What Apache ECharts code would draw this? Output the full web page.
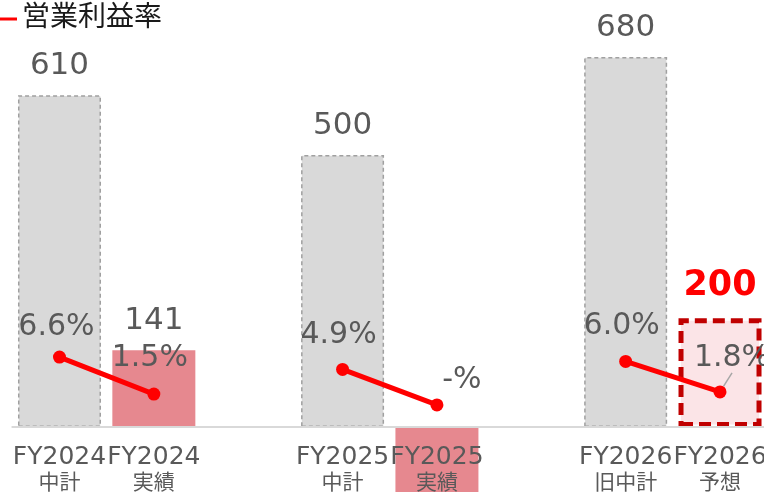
<!DOCTYPE html>
<html>
<head>
<meta charset="utf-8">
<script src="https://cdn.jsdelivr.net/npm/echarts@6/dist/echarts.min.js"></script>
<style>html,body{margin:0;padding:0;background:#fff;}#c{width:764px;height:492px;}</style>
</head>
<body>
<div id="c"></div>
<script>
// ---- data ----
const categories = ['FY2024\n中計', 'FY2024\n実績', '', 'FY2025\n中計', 'FY2025\n実績', '', 'FY2026\n旧中計', 'FY2026\n予想'];
const profitValues = [610, 141, null, 500, -130, null, 680, 200];
const marginValues = [6.6, 1.5, null, 4.9, 0, null, 6.0, 1.8];
const marginLabels = ['6.6%', '1.5%', '', '4.9%', '-%', '', '6.0%', '1.8%'];
const seriesName = '営業利益率';

const FONT = "'DejaVu Sans','Noto Sans CJK JP',sans-serif";
const TXT = '#595959';

const planStyle = { color: '#d9d9d9', borderColor: '#a0a0a0', borderWidth: 1.5, borderType: [4, 3] };
const actualStyle = { color: '#e6888f' };
const forecastStyle = { color: '#fbe4e7', borderColor: '#c00000', borderWidth: 5, borderType: [12, 6] };
const barStyles = [planStyle, actualStyle, null, planStyle, actualStyle, null, planStyle, forecastStyle];

const barData = profitValues.map((v, i) => {
  if (v === null) return null;
  const d = { value: v, itemStyle: barStyles[i] };
  if (v < 0) d.label = { show: false };
  if (i === 7) d.label = { color: '#ff0000', fontWeight: 'bold', fontSize: 35, distance: 15 };
  return d;
});

const labelOffsets = [[-3, -30], [-4, -36], null, [-4, -34], [25, -25], null, [-4, -35], [12, -34]];
const lineData = marginValues.map((v, i) => {
  if (v === null) return null;
  const d = { value: v, label: { offset: labelOffsets[i] } };
  if (i === 7) d.labelLine = { show: true, lineStyle: { color: '#a6a6a6', width: 1.5 } };
  return d;
});

const chart = echarts.init(document.getElementById('c'), null, { renderer: 'canvas' });
chart.setOption({
  animation: false,
  textStyle: { fontFamily: FONT },
  legend: {
    left: -13, top: 0,
    itemWidth: 25, itemHeight: 3, itemGap: 10,
    data: [{ name: seriesName, icon: 'rect' }],
    textStyle: { fontSize: 28, color: '#1a1a1a', fontFamily: FONT, padding: [0, 0, 0, 0] }
  },
  grid: { left: 12.3, width: 754.9, top: -8.2, height: 435.2, containLabel: false, outerBoundsMode: 'none' },
  xAxis: {
    type: 'category',
    data: categories,
    z: 5,
    axisLine: { onZero: true, onZeroAxisIndex: 0, lineStyle: { color: '#d9d9d9', width: 2 } },
    axisTick: { show: false },
    axisLabel: {
      interval: 0, color: TXT, margin: 16, fontFamily: FONT, hideOverlap: false,
      formatter: v => {
        if (!v) return '';
        const parts = v.split('\n');
        return '{a|' + parts[0] + '}\n{b|' + parts[1] + '}';
      },
      rich: {
        a: { fontSize: 25, lineHeight: 28, color: TXT, fontFamily: FONT },
        b: { fontSize: 21, lineHeight: 26, color: TXT, fontFamily: FONT }
      }
    }
  },
  yAxis: [
    { type: 'value', min: 0, max: 800, show: false, splitLine: { show: false } },
    { type: 'value', min: -3.04, max: 56.99, show: false, splitLine: { show: false } }
  ],
  series: [
    {
      type: 'bar',
      name: 'profit',
      data: barData,
      barWidth: 83,
      yAxisIndex: 0,
      clip: false,
      z: 2,
      label: { show: true, position: 'top', distance: 14, fontSize: 31, color: TXT, fontFamily: FONT }
    },
    {
      type: 'line',
      name: seriesName,
      data: lineData,
      yAxisIndex: 1,
      connectNulls: false,
      clip: false,
      symbol: 'circle',
      symbolSize: 13,
      z: 4,
      lineStyle: { color: '#ff0000', width: 5 },
      itemStyle: { color: '#ff0000' },
      labelLine: { show: false },
      label: {
        show: true, position: 'inside', fontSize: 30, color: TXT, fontFamily: FONT,
        formatter: p => marginLabels[p.dataIndex]
      }
    }
  ]
});
</script>
</body>
</html>
